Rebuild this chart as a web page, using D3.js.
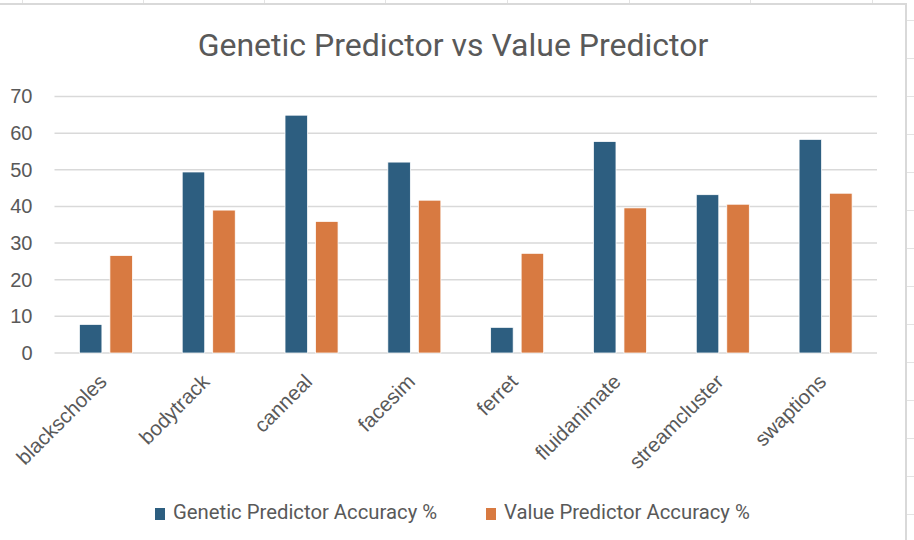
<!DOCTYPE html>
<html>
<head>
<meta charset="utf-8">
<script src="https://cdn.jsdelivr.net/npm/d3@7"></script>
<style>
  html, body { margin: 0; padding: 0; background: #fff; }
  svg { display: block; }
</style>
</head>
<body>
<svg id="chart"></svg>
<script>
// data
const categories = ["blackscholes", "bodytrack", "canneal", "facesim", "ferret", "fluidanimate", "streamcluster", "swaptions"]
const seriesNames = ["Genetic Predictor Accuracy %", "Value Predictor Accuracy %"]
const geneticValues = [7.8, 49.4, 64.9, 52.1, 7.0, 57.7, 43.2, 58.3]
const valueValues = [26.6, 39.0, 35.9, 41.7, 27.2, 39.6, 40.6, 43.6]
const yTicks = [0, 10, 20, 30, 40, 50, 60, 70]

const width = 914,
    height = 540

const colors = ["#2D5E80", "#D87A41"]
const textColor = "#595959"
const gridColor = "#D9D9D9"

const svg = d3.select("#chart")
    .attr("width", width)
    .attr("height", height)

// spreadsheet cell lines peeking out around the chart object
const sheet = svg.append("g").attr("stroke", "#E3E3E3").attr("stroke-width", 1)
const colLines = [22, 143, 264, 385, 507, 629, 750, 872]
colLines.forEach(x => sheet.append("line").attr("x1", x + 0.5).attr("x2", x + 0.5).attr("y1", 0).attr("y2", 4))
d3.range(20, height, 38).forEach(y => sheet.append("line").attr("x1", 906).attr("x2", width).attr("y1", y + 0.5).attr("y2", y + 0.5))

// chart object border (only top and right are in frame)
svg.append("path")
    .attr("d", "M0,4 H906 V" + height)
    .attr("fill", "none")
    .attr("stroke", gridColor)
    .attr("stroke-width", 2)

const plot = { left: 54.5, right: 877, top: 96.5, bottom: 353 }

const y = d3.scaleLinear()
    .domain([0, 70])
    .range([plot.bottom, plot.top])

const x0 = d3.scaleBand()
    .domain(categories)
    .range([plot.left, plot.right])

const x1 = d3.scaleBand()
    .domain(seriesNames)
    .range([0, x0.bandwidth()])
    .paddingInner(0.262)
    .paddingOuter(0.816)

// title
svg.append("text")
    .attr("x", 453)
    .attr("y", 56)
    .attr("text-anchor", "middle")
    .attr("font-family", "Roboto, sans-serif")
    .attr("font-size", 32)
    .attr("fill", textColor)
    .text("Genetic Predictor vs Value Predictor")

// gridlines
svg.append("g")
    .selectAll("line")
    .data(yTicks)
    .join("line")
    .attr("x1", plot.left)
    .attr("x2", plot.right)
    .attr("y1", d => y(d))
    .attr("y2", d => y(d))
    .attr("stroke", gridColor)
    .attr("stroke-width", 1.5)

// y axis labels
const yAxis = svg.append("g")
    .attr("transform", `translate(${plot.left - 22},0)`)
    .call(d3.axisLeft(y).tickValues(yTicks).tickSize(0).tickPadding(0))
yAxis.select(".domain").remove()
yAxis.selectAll("text")
    .attr("font-family", "'Liberation Sans', Arial, sans-serif")
    .attr("font-size", 20)
    .attr("fill", textColor)

// bars
const rows = categories.map((c, i) => ({ cat: c, vals: [geneticValues[i], valueValues[i]] }))

const groups = svg.append("g")
    .selectAll("g")
    .data(rows)
    .join("g")
    .attr("transform", d => `translate(${x0(d.cat)},0)`)

groups.selectAll("rect")
    .data(d => d.vals.map((v, k) => ({ name: seriesNames[k], v: v, k: k })))
    .join("rect")
    .attr("x", d => x1(d.name))
    .attr("width", x1.bandwidth())
    .attr("y", d => y(d.v))
    .attr("height", d => y(0) - y(d.v))
    .attr("fill", d => colors[d.k])
    .attr("stroke", "#fff")
    .attr("stroke-width", 0.75)

// category labels, rotated
const xAxis = svg.append("g")
    .attr("transform", `translate(0,${plot.bottom + 30})`)
    .call(d3.axisBottom(x0).tickSize(0).tickPadding(0))
xAxis.select(".domain").remove()
xAxis.selectAll("text")
    .attr("font-family", "'Liberation Sans', Arial, sans-serif")
    .attr("font-size", 20.5)
    .attr("fill", textColor)
    .attr("text-anchor", "end")
    .attr("y", 0)
    .attr("dy", 0)
    .attr("transform", "translate(2,0) rotate(-45)")

// legend
const legendX = [155, 486]
const legend = svg.append("g")
    .selectAll("g")
    .data(seriesNames)
    .join("g")
    .attr("transform", (d, i) => `translate(${legendX[i]},508)`)

legend.append("rect")
    .attr("width", 10)
    .attr("height", 12)
    .attr("fill", (d, i) => colors[i])

legend.append("text")
    .attr("x", 18)
    .attr("y", 11)
    .attr("font-family", "Roboto, sans-serif")
    .attr("font-size", 20.3)
    .attr("fill", textColor)
    .text(d => d)
</script>
</body>
</html>
